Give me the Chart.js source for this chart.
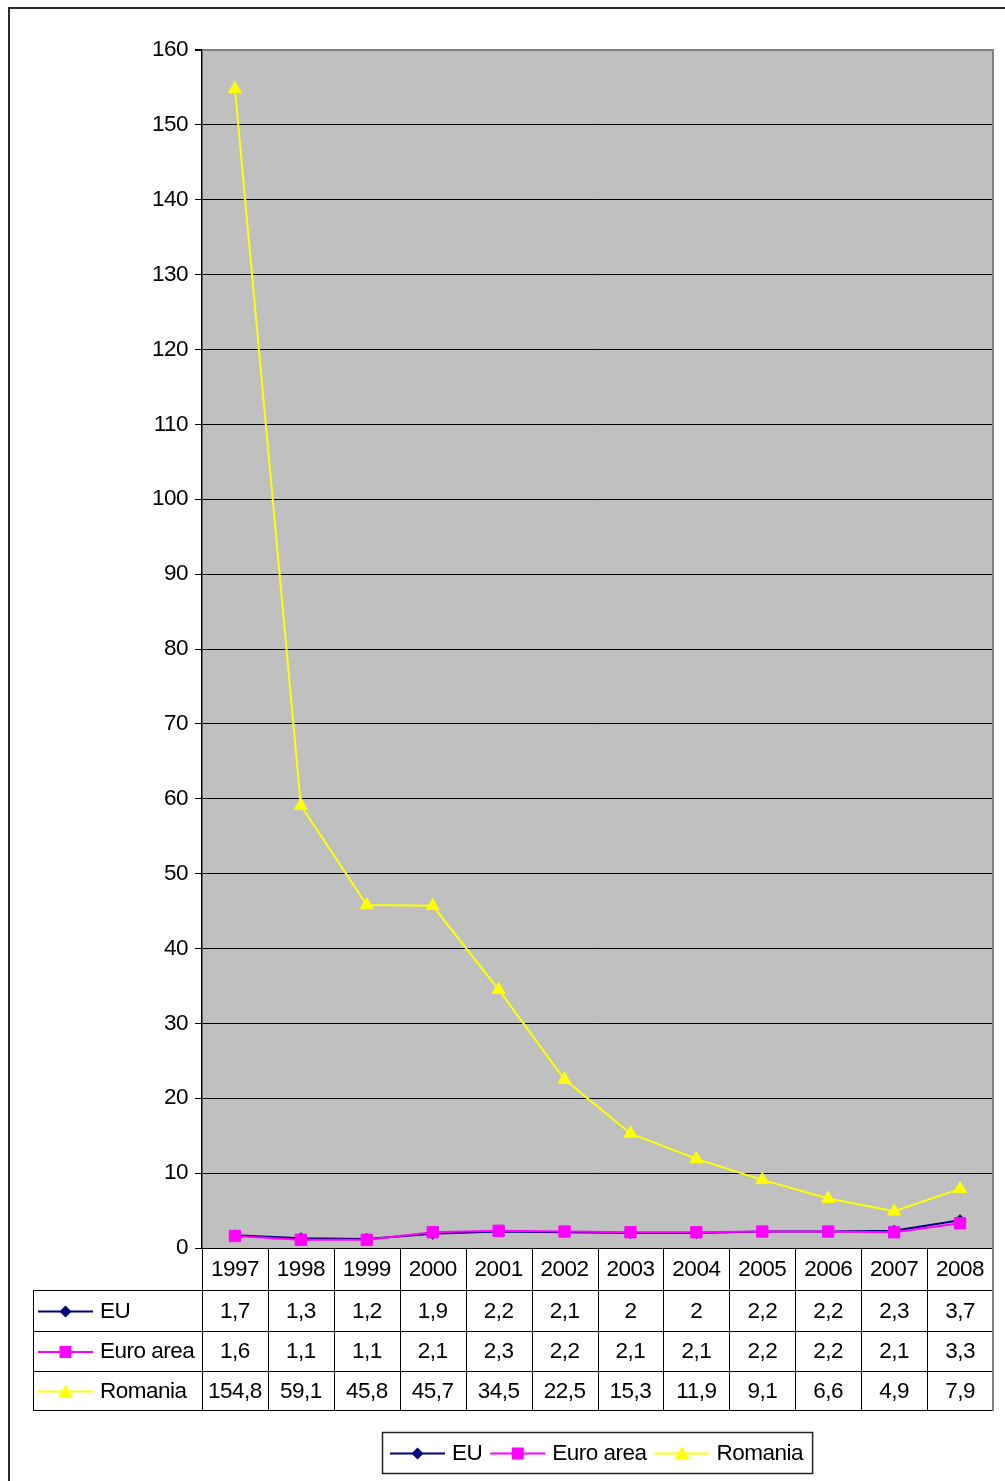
<!DOCTYPE html>
<html>
<head>
<meta charset="utf-8">
<script src="https://cdn.jsdelivr.net/npm/chart.js@4.4.0/dist/chart.umd.min.js"></script>
<style>
  html, body { margin: 0; padding: 0; background: #fff; }
  canvas { display: block; }
</style>
</head>
<body>
<canvas id="chart" width="1005" height="1481"></canvas>
<script>
// Annual inflation rate (%), 1997-2008
const years = ['1997', '1998', '1999', '2000', '2001', '2002', '2003', '2004', '2005', '2006', '2007', '2008'];
const euValues = [1.7, 1.3, 1.2, 1.9, 2.2, 2.1, 2, 2, 2.2, 2.2, 2.3, 3.7];
const euroAreaValues = [1.6, 1.1, 1.1, 2.1, 2.3, 2.2, 2.1, 2.1, 2.2, 2.2, 2.1, 3.3];
const romaniaValues = [154.8, 59.1, 45.8, 45.7, 34.5, 22.5, 15.3, 11.9, 9.1, 6.6, 4.9, 7.9];
const seriesNames = ['EU', 'Euro area', 'Romania'];
const yTicks = { min: 0, max: 160, step: 10 };

const FONT = '"Liberation Sans", Arial, Helvetica, sans-serif';
const FONT_SIZE = 22.5;
const LETTER_SPACING = '-0.5px';

const seriesStyle = [
  { color: '#000080', marker: 'diamond', pointStyle: 'rectRot', radius: 5.5 },
  { color: '#FF00FF', marker: 'square', pointStyle: 'rect', radius: 8 },
  { color: '#FFFF00', marker: 'triangle', pointStyle: 'triangle', radius: 7.5 }
];

function fmt(v) {
  return String(v).replace('.', ',');
}

// Marker drawn next to a short line for the table keys and the legend
function drawKey(ctx, x1, x2, y, style) {
  ctx.save();
  ctx.strokeStyle = style.color;
  ctx.lineWidth = 2;
  ctx.beginPath();
  ctx.moveTo(x1, y);
  ctx.lineTo(x2, y);
  ctx.stroke();
  const cx = (x1 + x2) / 2;
  ctx.fillStyle = style.color;
  ctx.beginPath();
  if (style.marker === 'diamond') {
    const r = 6;
    ctx.moveTo(cx, y - r); ctx.lineTo(cx + r, y); ctx.lineTo(cx, y + r); ctx.lineTo(cx - r, y);
  } else if (style.marker === 'square') {
    const h = 6;
    ctx.rect(cx - h, y - h, 2 * h, 2 * h);
  } else {
    ctx.moveTo(cx, y - 7); ctx.lineTo(cx + 7.5, y + 6); ctx.lineTo(cx - 7.5, y + 6);
  }
  ctx.closePath();
  ctx.fill();
  ctx.restore();
}

const tableRows = [1248, 1290, 1331, 1371, 1410];
const tableLeft = 33;

const excelLook = {
  id: 'excelLook',
  beforeDraw(chart) {
    const { ctx, chartArea: a } = chart;
    ctx.save();
    ctx.fillStyle = '#fff';
    ctx.fillRect(0, 0, chart.width, chart.height);
    ctx.fillStyle = '#C0C0C0';
    ctx.fillRect(a.left, a.top, a.right - a.left, a.bottom - a.top);
    ctx.restore();
    // tighter glyph spacing for all axis text
    if ('letterSpacing' in ctx) ctx.letterSpacing = LETTER_SPACING;
  },
  beforeDatasetsDraw(chart) {
    const { ctx, chartArea: a } = chart;
    ctx.save();
    ctx.strokeStyle = '#808080';
    ctx.lineWidth = 2;
    ctx.beginPath();
    ctx.moveTo(a.right, a.top - 1);
    ctx.lineTo(a.right, a.bottom);
    ctx.stroke();
    ctx.restore();
  },
  afterDraw(chart) {
    const { ctx, chartArea: a } = chart;
    const xs = chart.scales.x;
    const n = years.length;
    const colW = (a.right - a.left) / n;
    ctx.save();
    if ('letterSpacing' in ctx) ctx.letterSpacing = LETTER_SPACING;

    // Data table grid
    ctx.strokeStyle = '#000';
    ctx.lineWidth = 1;
    ctx.beginPath();
    ctx.moveTo(a.left, a.bottom + 0.5);
    ctx.lineTo(a.right, a.bottom + 0.5);
    for (let r = 1; r < tableRows.length; r++) {
      ctx.moveTo(tableLeft, tableRows[r] + 0.5);
      ctx.lineTo(a.right, tableRows[r] + 0.5);
    }
    ctx.moveTo(tableLeft + 0.5, tableRows[1]);
    ctx.lineTo(tableLeft + 0.5, tableRows[4] + 1);
    for (let i = 0; i < n; i++) {
      const x = Math.round(a.left + i * colW) + 0.5;
      ctx.moveTo(x, a.bottom);
      ctx.lineTo(x, tableRows[4] + 1);
    }
    ctx.stroke();
    ctx.strokeStyle = '#808080';
    ctx.lineWidth = 2;
    ctx.beginPath();
    ctx.moveTo(a.right, a.bottom);
    ctx.lineTo(a.right, tableRows[4] + 1);
    ctx.stroke();

    // Table text
    ctx.fillStyle = '#000';
    ctx.font = FONT_SIZE + 'px ' + FONT;
    ctx.textBaseline = 'middle';
    ctx.textAlign = 'center';
    const series = [euValues, euroAreaValues, romaniaValues];
    for (let i = 0; i < n; i++) {
      const cx = xs.getPixelForValue(i);
      ctx.fillText(years[i], cx, (tableRows[0] + tableRows[1]) / 2 + 1);
      for (let s = 0; s < 3; s++) {
        ctx.fillText(fmt(series[s][i]), cx, (tableRows[s + 1] + tableRows[s + 2]) / 2 + 1);
      }
    }
    ctx.textAlign = 'left';
    for (let s = 0; s < 3; s++) {
      const cy = (tableRows[s + 1] + tableRows[s + 2]) / 2 + 1;
      drawKey(ctx, 38, 93, cy, seriesStyle[s]);
      ctx.fillStyle = '#000';
      ctx.fillText(seriesNames[s], 100, cy);
    }

    // Legend box under the table
    const lineLen = 55, gapText = 7, gapItem = 8, padL = 8, padR = 9;
    const widths = seriesNames.map(t => ctx.measureText(t).width);
    let total = padL + padR;
    widths.forEach((w, i) => { total += lineLen + gapText + w + (i < widths.length - 1 ? gapItem : 0); });
    const boxLeft = Math.round((a.left + a.right) / 2 - total / 2);
    const boxTop = 1432, boxH = 41;
    ctx.strokeStyle = '#222';
    ctx.lineWidth = 1.5;
    ctx.strokeRect(boxLeft + 0.5, boxTop + 0.5, total, boxH);
    let x = boxLeft + padL;
    const ly = boxTop + boxH / 2 + 1;
    for (let s = 0; s < 3; s++) {
      drawKey(ctx, x, x + lineLen, ly, seriesStyle[s]);
      x += lineLen + gapText;
      ctx.fillStyle = '#000';
      ctx.fillText(seriesNames[s], x, ly);
      x += widths[s] + gapItem;
    }

    // Outer chart frame
    ctx.strokeStyle = '#2a2a2a';
    ctx.lineWidth = 2;
    ctx.beginPath();
    ctx.moveTo(9, chart.height + 2);
    ctx.lineTo(9, 8);
    ctx.lineTo(chart.width + 2, 8);
    ctx.stroke();
    ctx.restore();
  }
};

const datasets = [euValues, euroAreaValues, romaniaValues].map((values, i) => ({
  label: seriesNames[i],
  data: values,
  borderColor: seriesStyle[i].color,
  backgroundColor: seriesStyle[i].color,
  pointBackgroundColor: seriesStyle[i].color,
  pointBorderColor: seriesStyle[i].color,
  pointBorderWidth: 1,
  pointStyle: seriesStyle[i].pointStyle,
  pointRadius: seriesStyle[i].radius,
  borderWidth: 2,
  tension: 0,
  fill: false,
  order: 2 - i
}));

new Chart(document.getElementById('chart'), {
  type: 'line',
  data: { labels: years, datasets },
  options: {
    responsive: false,
    animation: false,
    devicePixelRatio: 1,
    layout: { padding: { left: 0, right: 12, top: 50, bottom: 233 } },
    plugins: { legend: { display: false }, tooltip: { enabled: false } },
    scales: {
      x: { type: 'category', offset: true, display: false },
      y: {
        min: yTicks.min,
        max: yTicks.max,
        ticks: {
          stepSize: yTicks.step,
          color: '#000',
          padding: 7,
          font: { family: FONT, size: FONT_SIZE }
        },
        grid: {
          color: c => (c.tick && c.tick.value === yTicks.max ? '#808080' : '#000'),
          lineWidth: c => (c.tick && c.tick.value === yTicks.max ? 2 : 1),
          tickLength: 7,
          tickColor: '#000'
        },
        border: { color: '#000', width: 1.5 },
        afterFit: s => { s.width = 202; }
      }
    }
  },
  plugins: [excelLook]
});
</script>
</body>
</html>
